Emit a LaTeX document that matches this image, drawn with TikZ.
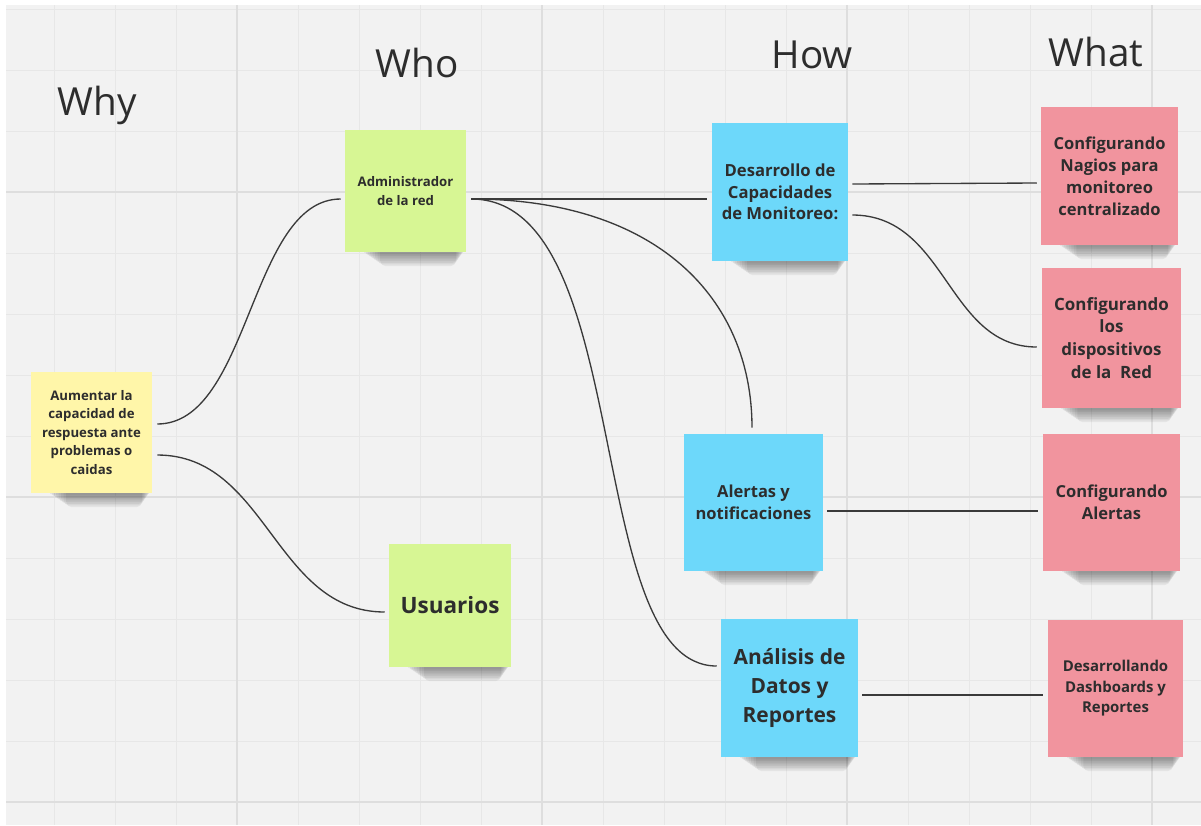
\documentclass[tikz,border=0pt]{standalone}
\usepackage{fontspec}
\setmainfont{Open Sans}
\usetikzlibrary{calc}

\definecolor{canvas}{HTML}{F2F2F2}
\definecolor{gridminor}{HTML}{E7E7E7}
\definecolor{gridmajor}{HTML}{DEDEDE}
\definecolor{noteyellow}{HTML}{FFF6A9}
\definecolor{notegreen}{HTML}{D7F694}
\definecolor{noteblue}{HTML}{6DD8FA}
\definecolor{notepink}{HTML}{F1949E}
\definecolor{ink}{HTML}{2D2D2D}
\definecolor{wire}{HTML}{3A3A3A}

\pgfdeclarelayer{gridlayer}
\pgfdeclarelayer{shadelayer}
\pgfsetlayers{gridlayer,shadelayer,main}

% soft shadow under the lower edge of a sticky note
\newcommand\noteshade[1]{%
  \begin{pgfonlayer}{shadelayer}
    \foreach \k in {0,...,7}{%
      \fill[black,opacity=0.055,rounded corners=4pt]
        ($(#1.south west)+(18+2.5*\k,-6)$) rectangle ($(#1.south east)+(-2-1.2*\k,2+1.7*\k)$);}
  \end{pgfonlayer}}

\tikzset{
  note/.style 2 args={inner sep=0pt, align=center, text=ink,
    minimum width=#1*0.75pt, minimum height=#2*0.75pt},
  header/.style={anchor=base west, text=ink, font=\fontsize{29}{30}\selectfont},
  wire/.style={draw=wire, line width=1pt},
}

\begin{document}
\begin{tikzpicture}[x=0.75pt,y=-0.75pt]
\useasboundingbox (0,0) rectangle (1201,825);

% board and grid
\begin{pgfonlayer}{gridlayer}
  \fill[white] (0,0) rectangle (1201,825);
  \fill[canvas] (6,5) rectangle (1201,825);
  \foreach \i in {-3,...,15}{\draw[gridminor,line width=0.75pt] (237+61*\i,5) -- (237+61*\i,825);}
  \foreach \i in {-3,...,10}{\draw[gridminor,line width=0.75pt] (6,192+61*\i) -- (1201,192+61*\i);}
  \foreach \i in {0,1,2,3}{\draw[gridmajor,line width=1.1pt] (237+305*\i,5) -- (237+305*\i,825);}
  \foreach \i in {0,1,2}{\draw[gridmajor,line width=1.1pt] (6,192+305*\i) -- (1201,192+305*\i);}
\end{pgfonlayer}

% column headings
\node[header] (hwhy)  at (53,115)  {Why};
\node[header] (hwho)  at (371,77)  {Who};
\node[header] (hhow)  at (767,68)  {How};
\node[header] (hwhat) at (1044,66) {What};

% sticky notes
\node[note={121}{121}, fill=noteyellow, font=\fontsize{9.9}{13.9}\selectfont\bfseries]
  (why) at (91.5,432.5) {Aumentar la\\capacidad de\\respuesta ante\\problemas o\\caidas};
\node[note={121}{122}, fill=notegreen, font=\fontsize{9.9}{14.3}\selectfont\bfseries]
  (adm) at (405.5,191) {Administrador\\de la red};
\node[note={122}{123}, fill=notegreen, font=\fontsize{16.9}{20}\selectfont\bfseries]
  (usu) at (450,605.5) {Usuarios};
\node[note={136}{138}, fill=noteblue, font=\fontsize{12.5}{16.1}\selectfont\bfseries]
  (des) at (780,192) {Desarrollo de\\Capacidades\\de Monitoreo:};
\node[note={139}{137}, fill=noteblue, font=\fontsize{12.4}{16.5}\selectfont\bfseries]
  (ale) at (753.5,502.5) {Alertas y\\notificaciones};
\node[note={137}{138}, fill=noteblue, font=\fontsize{15.7}{21.4}\selectfont\bfseries]
  (ana) at (789.5,688) {Análisis de\\Datos y\\Reportes};
\node[note={137}{138}, fill=notepink, font=\fontsize{12.4}{16.5}\selectfont\bfseries]
  (nag) at (1109.5,176) {Configurando\\Nagios para\\monitoreo\\centralizado};
\node[note={139}{140}, fill=notepink, font=\fontsize{12.7}{17.2}\selectfont\bfseries]
  (dis) at (1111.5,338) {Configurando\\los\\dispositivos\\de la\ \ Red};
\node[note={137}{137}, fill=notepink, font=\fontsize{12.4}{16.5}\selectfont\bfseries]
  (cal) at (1111.5,502.5) {Configurando\\Alertas};
\node[note={135}{137}, fill=notepink, font=\fontsize{11.2}{15.4}\selectfont\bfseries]
  (das) at (1115.5,688.5) {Desarrollando\\Dashboards y\\Reportes};

\foreach \n in {why,adm,usu,des,ale,ana,nag,dis,cal,das}{\noteshade{\n}}

% connectors
\draw[wire] ([shift={(5,-8.5)}]why.east) .. controls +(93,0) and +(-91,0) .. ([shift={(-4,8)}]adm.west);
\draw[wire] ([shift={(5,22.5)}]why.east) .. controls +(110,0) and +(-110,0) .. ([shift={(-4,6.5)}]usu.west);
\draw[wire] ([shift={(5,8)}]adm.east) -- ([shift={(-5,7)}]des.west);
\draw[wire] ([shift={(5,8)}]adm.east) .. controls +(185,0) and +(0,-130) .. ([shift={(-1.5,-6)}]ale.north);
\draw[wire] ([shift={(5,8)}]adm.east) .. controls +(165,0) and +(-135,0) .. ([shift={(-4,-22)}]ana.west);
\draw[wire] ([shift={(4,-8)}]des.east) -- ([shift={(-4,7)}]nag.west);
\draw[wire] ([shift={(4,23)}]des.east) .. controls +(95,0) and +(-90,0) .. ([shift={(-5,9)}]dis.west);
\draw[wire] ([shift={(4,8.5)}]ale.east) -- ([shift={(-5,8.5)}]cal.west);
\draw[wire] ([shift={(4,7)}]ana.east) -- ([shift={(-5,6.5)}]das.west);
\end{tikzpicture}
\end{document}
